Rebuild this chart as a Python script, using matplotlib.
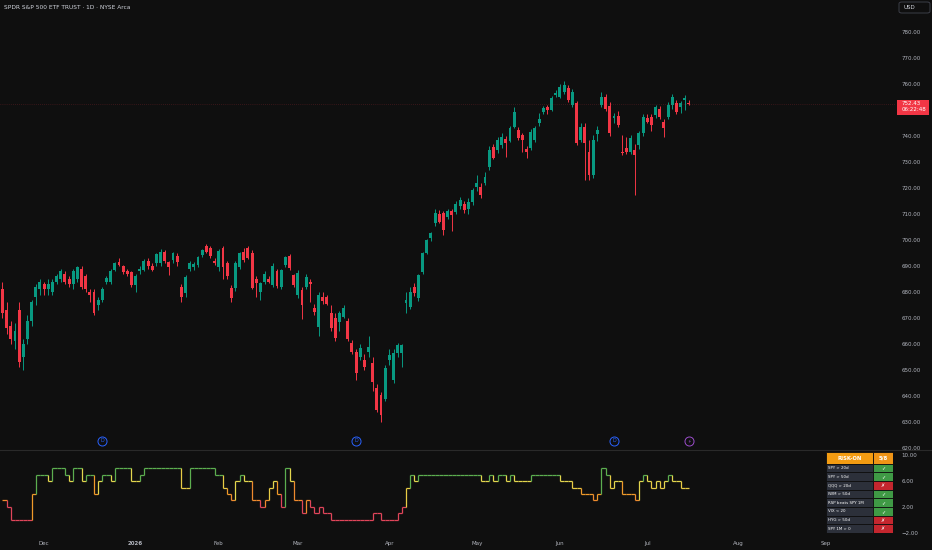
import pandas as pd
import matplotlib.pyplot as plt
import matplotlib.transforms as mtransforms
from matplotlib.patches import Rectangle, FancyBboxPatch
from matplotlib.collections import LineCollection
from matplotlib.lines import Line2D

plt.rcParams['font.family'] = ['DejaVu Sans']

BG = '#0f0f0f'
UP = '#089981'
DOWN = '#f23645'
TEXT = '#b2b5be'

# daily SPY candles, 2025-11-14 .. 2026-07-16
opens = [
    681, 673, 667, 661, 673, 655, 662, 669, 678, 681,
    683, 681, 680, 684, 685, 687, 685, 683, 685, 689,
    686, 680, 680, 675, 677, 684, 684, 688.5, 691.5, 690,
    688, 687.5, 682.7, 688, 688.5, 692, 690, 691, 691, 695.5,
    691.5, 692.3, 693.8, 682, 679.5, 689, 689.5, 690.4, 694.2, 697.7,
    696.8, 692, 689.7, 696.8, 691, 681.4, 681.4, 689.7, 695.5, 696.8,
    694.9, 684.9, 680.1, 684, 685, 682.7, 688.2, 682, 690.4, 693.8,
    686.5, 678.8, 680.8, 681.8, 684, 674, 666.7, 678, 678, 671.8,
    669.9, 668.6, 670.5, 669, 660.3, 657, 655.1, 653.8, 657, 652.6,
    643, 640.4, 639, 653.8, 646.2, 656.4, 656.4, 675.8, 674.3, 682,
    677.6, 687.8, 695.1, 700.7, 706.4, 710, 710.5, 709, 711, 710.9,
    713, 714, 712, 714.7, 720.5, 720.5, 721.8, 728.2, 735.6, 734.6,
    736.5, 738.7, 738.2, 743.6, 742.3, 740.4, 734.9, 735.3, 738.5, 745.1,
    749.3, 751.3, 750, 755.8, 755.1, 757, 758.3, 751.9, 752.6, 738.5,
    743.6, 734, 725, 740.8, 751.9, 755.1, 751.5, 746.8, 747.7, 734,
    735.3, 734, 734.6, 736.5, 741, 747, 747.4, 748.1, 750.3, 745.5,
    747.4, 751.9, 752.6, 751.1, 753.8, 752.8,
]
highs = [
    684, 676, 669, 668, 676, 662, 671, 677, 683, 685,
    684, 685, 685, 687, 689, 688, 686, 689, 690, 690,
    687, 681, 681, 678, 682, 686, 689, 691.5, 693, 690.5,
    689, 688, 687, 690, 692.5, 693, 691, 695, 696.5, 696,
    692, 695.5, 695, 683, 686.5, 692, 691.5, 694, 696.5, 698.5,
    697.5, 693, 696.5, 697.5, 692, 682.5, 692, 695.5, 697, 697.5,
    696, 686, 684, 688, 686, 691, 689, 689, 694, 694.5,
    687, 688.5, 682, 687, 685, 675.5, 680, 680, 679, 675,
    672, 672.5, 675, 670, 661.5, 658, 660, 656, 663, 655,
    644.5, 641.5, 652, 658, 658, 660.5, 660, 680, 682, 683.5,
    687, 695.5, 700.5, 703.2, 712, 711.5, 711, 712, 712, 715,
    716.5, 715, 716, 720, 725, 722, 726, 736, 737, 739.5,
    741, 740, 744, 751, 743.5, 741, 736, 742.5, 744, 748.7,
    751.5, 752, 755.5, 757.5, 760, 761, 759.5, 758, 753.5, 745,
    745, 738.5, 740.5, 744, 757, 756, 753, 749, 749.5, 740.4,
    739.7, 740.5, 737, 742, 748.5, 748.5, 748.5, 752, 751.5, 746.5,
    753, 756, 754, 753.5, 755.8, 754,
]
lows = [
    670, 664, 660, 658, 651, 650, 660, 667, 675, 679,
    679, 679, 679, 683, 684, 683, 682, 681, 684, 681,
    680, 676, 671, 673, 676, 683, 683, 688, 690, 687,
    686, 682, 680, 687, 688, 689, 688, 690, 690, 691,
    686.5, 691, 690, 676, 678, 688, 688.5, 689.5, 693.5, 695,
    693, 690.5, 688, 685, 685, 676, 680.5, 689, 691.5, 692.5,
    681, 678, 677, 683, 683.5, 682, 681.5, 681, 689.5, 688.5,
    682, 677.5, 669.5, 681, 676, 671, 663, 675.5, 675, 665,
    661, 665, 670, 661, 656, 646, 654, 650, 655, 642,
    634, 630, 638, 652, 645, 655, 651, 671.8, 673.5, 678.5,
    676.5, 687, 694.5, 699.5, 705.5, 706.5, 702, 708, 703.5, 710,
    712, 710.5, 710, 713.5, 719, 716, 721, 727, 731, 733.5,
    735.5, 732, 737.5, 743, 738.5, 734, 731.4, 734.5, 737.5, 744,
    748.5, 748.5, 749.5, 755, 754.5, 756, 753, 751, 736.5, 737.5,
    723, 723, 724, 738, 751, 749.5, 740, 745, 743.5, 732.7,
    733, 733, 717.3, 735, 740, 745, 742, 747, 746.5, 739.7,
    746.5, 750.5, 748.5, 749, 750, 751.8,
]
closes = [
    672, 666, 662, 665, 653, 660, 669, 676, 682, 684,
    681, 683, 684, 686, 688, 684, 683, 688, 689.5, 682,
    681, 679, 672, 677, 681, 685.5, 688, 691, 690.5, 687.5,
    687, 682.5, 686, 689, 692, 690, 688.5, 694.6, 695.5, 692,
    689.5, 695, 691.6, 678, 685.7, 691, 690.8, 693.6, 696, 695.5,
    693.8, 691, 695.9, 689.7, 686.2, 677.6, 691, 694.9, 692.3, 693,
    681.4, 683.3, 683.3, 686.8, 684, 690, 682.3, 688.5, 693.6, 689.1,
    682.7, 687.2, 675, 685.9, 683, 672.4, 678.8, 676.5, 675.5, 666,
    662.2, 671.8, 673.7, 661.8, 657, 648.7, 658.3, 651.3, 659, 645.5,
    634.6, 632.7, 650.7, 655.8, 656.4, 659.6, 659.6, 677, 680, 679.5,
    686.5, 694.9, 700, 702.6, 710.5, 707, 703.8, 711.3, 709.5, 714,
    715.4, 711.5, 714.5, 719.2, 721.8, 717.3, 724.3, 734.6, 731.4, 738.5,
    739.7, 737.2, 743, 749.3, 739.1, 738.5, 734, 741.7, 743, 746.4,
    750.6, 750, 754.5, 756.7, 759, 759.6, 753.8, 757, 737.2, 743.6,
    737.2, 725, 738.5, 742.3, 755.1, 750.3, 741, 747.7, 744.2, 733.4,
    734, 739.1, 732.7, 741, 747.4, 745.5, 744.2, 751.3, 747.4, 743,
    751.9, 755.1, 749.3, 752.6, 754.5, 752.43,
]

# risk-on score (0..8) for every bar
risk_score = [
    3, 2, 0, 0, 0, 0, 0, 4, 7, 7,
    7, 6, 8, 8, 8, 7, 6, 8, 8, 6,
    7, 7, 4, 6, 7, 7, 6, 8, 8, 8,
    8, 6, 6, 7, 8, 8, 8, 8, 8, 8,
    8, 8, 8, 5, 5, 8, 8, 8, 8, 8,
    8, 7, 7, 5, 4, 3, 6, 7, 6, 6,
    3, 3, 2, 3, 5, 6, 4, 2, 8, 6,
    3, 3, 1, 3, 2, 1, 2, 1, 1, 0,
    0, 0, 0, 0, 0, 0, 0, 0, 0, 1,
    1, 0, 0, 0, 0, 1, 2, 5, 7, 6,
    7, 7, 7, 7, 7, 7, 7, 7, 7, 7,
    7, 7, 7, 7, 7, 6, 6, 7, 6, 7,
    7, 6, 7, 6, 6, 6, 6, 7, 7, 7,
    7, 7, 7, 7, 6, 6, 6, 5, 5, 4,
    4, 4, 3, 4, 8, 7, 5, 6, 6, 4,
    4, 4, 3, 6, 7, 6, 5, 6, 5, 6,
    7, 6, 6, 5, 5, 5,
]
score_palette = ['#e0455a', '#e0455a', '#e0455a', '#ef8a2e', '#f09a2a',
                 '#e8cc45', '#e3d64e', '#5cae4f', '#5cae4f']

holidays = ['2025-11-27', '2025-12-25', '2026-01-01', '2026-01-19', '2026-02-16',
            '2026-04-03', '2026-05-25', '2026-06-19', '2026-07-03', '2026-09-07']
dividend_dates = ['2025-12-19', '2026-03-20', '2026-06-18']
event_dates = ['2026-07-16']

check_labels = ['SPY > 20d', 'SPY > 50d', 'QQQ > 20d', 'IWM > 50d',
                'RSP beats SPY 1M', 'VIX < 20', 'HYG > 50d', 'SPY 1M > 0']
check_passed = [True, True, False, True, True, True, False, False]

# 750 sits under the last-price label, so it is not shown
price_ticks = [620, 630, 640, 650, 660, 670, 680, 690, 700, 710, 720,
               730, 740, 760, 770, 780]
score_ticks = [10, 6, 2, -2]

# trading calendar -> bar index axis
dates = pd.bdate_range('2025-11-14', '2026-09-30', freq='C', holidays=holidays)
month_pos, month_lab = [], []
prev = dates[0].month
for i, d in enumerate(dates):
    if d.month != prev:
        month_pos.append(i)
        month_lab.append(str(d.year) if d.month == 1 else d.strftime('%b'))
        prev = d.month

W, H = 932, 550
fig = plt.figure(figsize=(W / 100, H / 100), dpi=100, facecolor=BG)


def px_axes(x0, y0, x1, y1):
    a = fig.add_axes([x0 / W, 1 - y1 / H, (x1 - x0) / W, (y1 - y0) / H])
    a.set_facecolor(BG)
    for s in a.spines.values():
        s.set_visible(False)
    return a


ax = px_axes(0, 0, 896, 449)
ax2 = px_axes(0, 450, 896, 538)
xlim = (-0.6, 214.8)

# candles
x = list(range(len(closes)))
colors = [UP if c >= o else DOWN for o, c in zip(opens, closes)]
bottoms = [min(o, c) for o, c in zip(opens, closes)]
heights = [max(abs(c - o), 0.35) for o, c in zip(opens, closes)]
ax.vlines(x, lows, highs, colors=colors, linewidth=0.7)
ax.bar(x, heights, bottom=bottoms, width=0.7, color=colors, linewidth=0)
ax.axhline(closes[-1], color=DOWN, lw=0.5, ls=(0, (1, 2)), alpha=0.35)

ax.set_xlim(*xlim)
ax.set_ylim(619.6, 792.3)
ax.set_xticks([])
ax.yaxis.tick_right()
ax.set_yticks(price_ticks)
ax.set_yticklabels([f'{t:.2f}' for t in price_ticks])
ax.tick_params(axis='y', length=0, pad=4, labelsize=4, labelcolor=TEXT)

# dividend / event markers
trans = mtransforms.blended_transform_factory(ax.transData, ax.transAxes)
for d in dividend_dates:
    k = dates.get_loc(pd.Timestamp(d))
    ax.plot(k, 0.018, marker='o', ms=6.5, mfc=BG, mec='#2962ff', mew=0.7,
            transform=trans, clip_on=False)
    ax.text(k, 0.018, 'D', fontsize=3.4, color='#2962ff', ha='center',
            va='center', transform=trans)
for d in event_dates:
    k = dates.get_loc(pd.Timestamp(d))
    ax.plot(k, 0.018, marker='o', ms=6.5, mfc=BG, mec='#9c4dcc', mew=0.7,
            transform=trans, clip_on=False)
    ax.text(k, 0.018, '\u26a1', fontsize=3.4, color='#9c4dcc', ha='center',
            va='center', transform=trans)

# risk score step line
segs, seg_cols = [], []
for k in range(len(risk_score) - 1):
    v0, v1 = risk_score[k], risk_score[k + 1]
    segs.append([(k, v0), (k + 1, v0)])
    seg_cols.append(score_palette[v0])
    if v1 != v0:
        segs.append([(k + 1, v0), (k + 1, v1)])
        seg_cols.append(score_palette[v1])
ax2.add_collection(LineCollection(segs, colors=seg_cols, linewidths=0.9))
ax2.set_xlim(*xlim)
ax2.set_ylim(-2.77, 10.77)
ax2.yaxis.tick_right()
ax2.set_yticks(score_ticks)
ax2.set_yticklabels([f'{t:.2f}'.replace('-', '\u2212') for t in score_ticks])
ax2.tick_params(axis='y', length=0, pad=4, labelsize=4, labelcolor=TEXT)
ax2.set_xticks(month_pos)
ax2.set_xticklabels(month_lab)
ax2.tick_params(axis='x', length=0, pad=2.5, labelsize=4, labelcolor=TEXT)
for lbl in ax2.get_xticklabels():
    if lbl.get_text().isdigit():
        lbl.set_fontweight('bold')

# pane separator
fig.add_artist(Line2D([0, 1], [1 - 449.5 / H] * 2, color='#2a2a2a', lw=0.8))

# status table
tab = px_axes(826, 452, 893, 533)
tab.set_xlim(0, 67)
tab.set_ylim(81, 0)
tab.set_xticks([])
tab.set_yticks([])
n_pass = sum(check_passed)
tab.add_patch(Rectangle((0, 0), 47, 11.5, fc='#f39c12', ec=BG, lw=0.6))
tab.add_patch(Rectangle((47, 0), 20, 11.5, fc='#ef9416', ec=BG, lw=0.6))
tab.text(23.5, 6, 'RISK-ON', color='white', fontsize=3.8, fontweight='bold',
         ha='center', va='center')
tab.text(57, 6, f'{n_pass}/{len(check_passed)}', color='white', fontsize=3.8,
         fontweight='bold', ha='center', va='center')
for i, (lab, ok) in enumerate(zip(check_labels, check_passed)):
    y0 = 11.5 + i * 8.7
    tab.add_patch(Rectangle((0, y0), 47, 8.7, fc='#2c303a', ec=BG, lw=0.6))
    tab.add_patch(Rectangle((47, y0), 20, 8.7, fc='#3f9a45' if ok else '#c4262e',
                            ec=BG, lw=0.6))
    tab.text(2, y0 + 4.5, lab, color='white', fontsize=2.9, ha='left', va='center')
    tab.text(57, y0 + 4.5, '\u2713' if ok else '\u2717', color='white',
             fontsize=3.6, ha='center', va='center')

# header texts
fig.text(4 / W, 1 - 7.5 / H, 'SPDR S&P 500 ETF TRUST \u00b7 1D \u00b7 NYSE Arca',
         fontsize=4.2, color='#d1d4dc', ha='left', va='center')
fig.patches.append(FancyBboxPatch((899 / W, 1 - 13 / H), 31 / W, 11 / H,
                                  boxstyle='round,pad=0,rounding_size=0.003',
                                  transform=fig.transFigure, fc=BG,
                                  ec='#434651', lw=0.6))
fig.text(904 / W, 1 - 7.5 / H, 'USD', fontsize=4, color='#d1d4dc',
         ha='left', va='center')

# last price label
fig.patches.append(Rectangle((897 / W, 1 - 114.5 / H), 32 / W, 14.5 / H,
                             transform=fig.transFigure, fc=DOWN, ec='none',
                             zorder=5))
fig.text(901.5 / W, 1 - 103.7 / H, f'{closes[-1]:.2f}', fontsize=4,
         color='white', ha='left', va='center', zorder=6)
fig.text(901.5 / W, 1 - 109.8 / H, '06:22:48', fontsize=4, color='white',
         ha='left', va='center', zorder=6)

fig.savefig('out.png', dpi=100, facecolor=BG)
